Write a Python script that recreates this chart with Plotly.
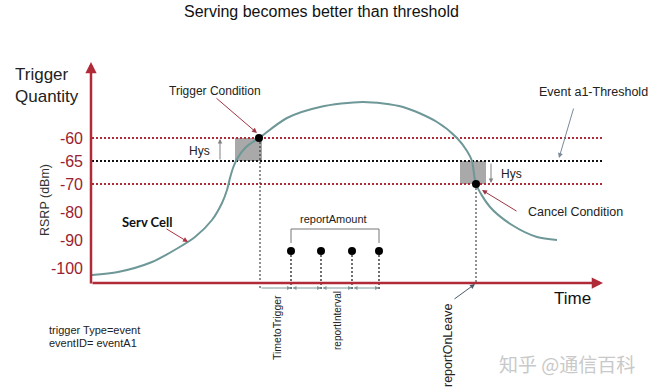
import plotly.graph_objects as go

# ---------------- data (schematic time units / display levels) ----------------
curve_t = [1, 27, 61, 87, 104, 121, 131, 136, 139, 142, 146, 155, 168, 196, 229, 272,
           312, 346, 366, 376, 381, 385, 399, 421, 446, 466]
curve_level = [8, 11, 21, 35, 46, 63, 80, 93, 105, 115, 124, 136, 145, 165, 176, 181,
               176, 161, 145, 132, 122, 99, 76, 58, 46, 43]

tick_labels = ["-60", "-65", "-70", "-80", "-90", "-100"]
tick_level = [145, 122, 99, 71, 43, 15]

upper_level = 145      # -60 dBm  (threshold + Hys)
threshold_level = 122  # -65 dBm  (Event a1 threshold)
lower_level = 99       # -70 dBm  (threshold - Hys)
line_start, line_end = 1, 511

trigger_t = 168
cancel_t = 385
trigger_box_t = [144, 171]
cancel_box_t = [369, 395]

report_t = [200, 230, 261, 288]
report_level = 32
bracket_level = [40, 54]
dim_level = -5
axis_end_t = 512
axis_top_level = 221

AXIS_RED = "#b02a37"
TICK_RED = "#9a2230"
CURVE = "#6e9797"
FONT = "Liberation Sans, Arial, sans-serif"

fig = go.Figure()

# threshold lines
for lvl, col in [(upper_level, AXIS_RED), (threshold_level, "#111111"), (lower_level, AXIS_RED)]:
    fig.add_trace(go.Scatter(x=[line_start, line_end], y=[lvl, lvl], mode="lines",
                             line=dict(color=col, width=2, dash="2px,2px"), hoverinfo="skip"))

# grey hysteresis boxes
fig.add_shape(type="rect", x0=trigger_box_t[0], x1=trigger_box_t[1], y0=threshold_level, y1=upper_level,
              fillcolor="#a9a9a9", line_width=0, layer="below")
fig.add_shape(type="rect", x0=cancel_box_t[0], x1=cancel_box_t[1], y0=lower_level, y1=threshold_level,
              fillcolor="#a9a9a9", line_width=0, layer="below")

# vertical dashed lines
fig.add_trace(go.Scatter(x=[trigger_t + 1, trigger_t + 1], y=[upper_level, dim_level - 2], mode="lines",
                         line=dict(color="#222222", width=1, dash="2px,2px"), hoverinfo="skip"))
fig.add_trace(go.Scatter(x=[cancel_t, cancel_t], y=[lower_level, 0], mode="lines",
                         line=dict(color="#222222", width=1, dash="2px,2px"), hoverinfo="skip"))
for t in report_t:
    fig.add_trace(go.Scatter(x=[t, t], y=[report_level, dim_level - 2], mode="lines",
                             line=dict(color="#111111", width=1.2, dash="2px,2px"), hoverinfo="skip"))

# serving cell curve
fig.add_trace(go.Scatter(x=curve_t, y=curve_level, mode="lines",
                         line=dict(color=CURVE, width=2, shape="spline", smoothing=0.8), hoverinfo="skip"))

# trigger / cancel points
fig.add_trace(go.Scatter(x=[trigger_t, cancel_t], y=[upper_level, lower_level], mode="markers",
                         marker=dict(color="black", size=8), hoverinfo="skip"))
# report points
fig.add_trace(go.Scatter(x=report_t, y=[report_level] * len(report_t), mode="markers",
                         marker=dict(color="black", size=8), hoverinfo="skip"))

# reportAmount bracket
fig.add_trace(go.Scatter(x=[report_t[0], report_t[0], report_t[-1], report_t[-1]],
                         y=[bracket_level[0], bracket_level[1], bracket_level[1], bracket_level[0]],
                         mode="lines", line=dict(color="#777777", width=1), hoverinfo="skip"))

ann = []

def arrow(x, y, ax, ay, color, width=1, head=2, size=1.0, side="end"):
    ann.append(dict(x=x, y=y, ax=ax, ay=ay, xref="x", yref="y", axref="x", ayref="y",
                    showarrow=True, arrowhead=head, arrowsize=size, arrowwidth=width,
                    arrowcolor=color, arrowside=side, text=""))

def text(x, y, s, size=12, color="#222222", xanchor="center", angle=0, xref="x", family=FONT,
         bold=False, align="center"):
    ann.append(dict(x=x, y=y, xref=xref, yref="y", text=("<b>%s</b>" % s) if bold else s,
                    showarrow=False, xanchor=xanchor, yanchor="middle", textangle=angle, align=align,
                    font=dict(family=family, size=size, color=color)))

# axes with arrows
arrow(axis_end_t, 0, 0, 0, AXIS_RED, width=2.5, head=2, size=0.9)
arrow(0, axis_top_level, 0, -2, AXIS_RED, width=2.5, head=2, size=0.9)

# dimension arrows under the time axis
segs = [trigger_t + 1] + report_t
for i in range(len(segs) - 1):
    arrow(segs[i + 1], dim_level, segs[i], dim_level, "#7f9a9a", width=1, head=2, size=0.8,
          side="end" if i == 0 else "end+start")

# Hys arrows
arrow(129, upper_level - 1, 129, threshold_level, "#808080", width=1, head=2, size=0.9)
arrow(400, lower_level + 1, 400, threshold_level - 1, "#808080", width=1, head=2, size=0.9)

# annotation arrows
arrow(166, 150, 124, 186, "#a03545", width=1, head=2, size=1)      # trigger condition
arrow(97, 41, 74, 55, "#b03040", width=1, head=2, size=1)         # serv cell
arrow(468, 125, 483, 176, "#7a8a9a", width=1, head=2, size=1)     # event a1 threshold
arrow(391, 93, 427, 71, "#9a3545", width=1, head=2, size=1)       # cancel condition
arrow(384, -1, 362, -17, "#4a5a6a", width=1, head=2, size=1)      # report on leave

# texts
text(230, 272, "Serving becomes better than threshold", size=16, color="#111111")
text(-0.138, 198, "Trigger<br>Quantity", size=17, color="#222222", xanchor="left", xref="paper", align="left")
text(-0.0814, 83, "RSRP (dBm)", size=12.5, color="#333333", angle=-90, xref="paper")
text(123.5, 192, "Trigger Condition", size=12)
text(502, 191, "Event a1-Threshold", size=12.5)
text(435, 71, "Cancel Condition", size=12.5, xanchor="left")
text(108, 132, "Hys", size=12)
text(420, 109, "Hys", size=12)
text(55.5, 61, "Serv Cell", size=13, color="#111111", family="Lato, sans-serif", bold=True)
text(242, 64, "reportAmount", size=11)
text(481, -15, "Time", size=17, color="#111111")
text(186, -45, "TimetoTrigger", size=10.5, angle=-90)
text(246, -38, "reportInterval", size=10, angle=-90)
text(357, -63, "reportOnLeave", size=12.5, angle=-90)
text(-0.0779, -47, "trigger Type=event", size=11, xanchor="left", xref="paper")
text(-0.0779, -60, "eventID= eventA1", size=11, xanchor="left", xref="paper")
text(476, -80, "知乎 @通信百科", size=19, color="#c9c9c9", family="Noto Sans CJK SC")

fig.update_layout(
    width=656, height=391,
    margin=dict(l=91, r=0, t=0, b=0),
    plot_bgcolor="white", paper_bgcolor="white",
    showlegend=False,
    annotations=ann,
    xaxis=dict(range=[0, 565], visible=False, fixedrange=True),
    yaxis=dict(range=[-108, 283], showgrid=False, zeroline=False, showline=False,
               tickvals=tick_level, ticktext=tick_labels, ticks="",
               ticklabelstandoff=7,
               tickfont=dict(family=FONT, size=16, color=TICK_RED), fixedrange=True),
)

fig.write_html("out.html", config={"staticPlot": True},
               post_script="document.body.style.margin='0';document.body.style.overflow='hidden';")
